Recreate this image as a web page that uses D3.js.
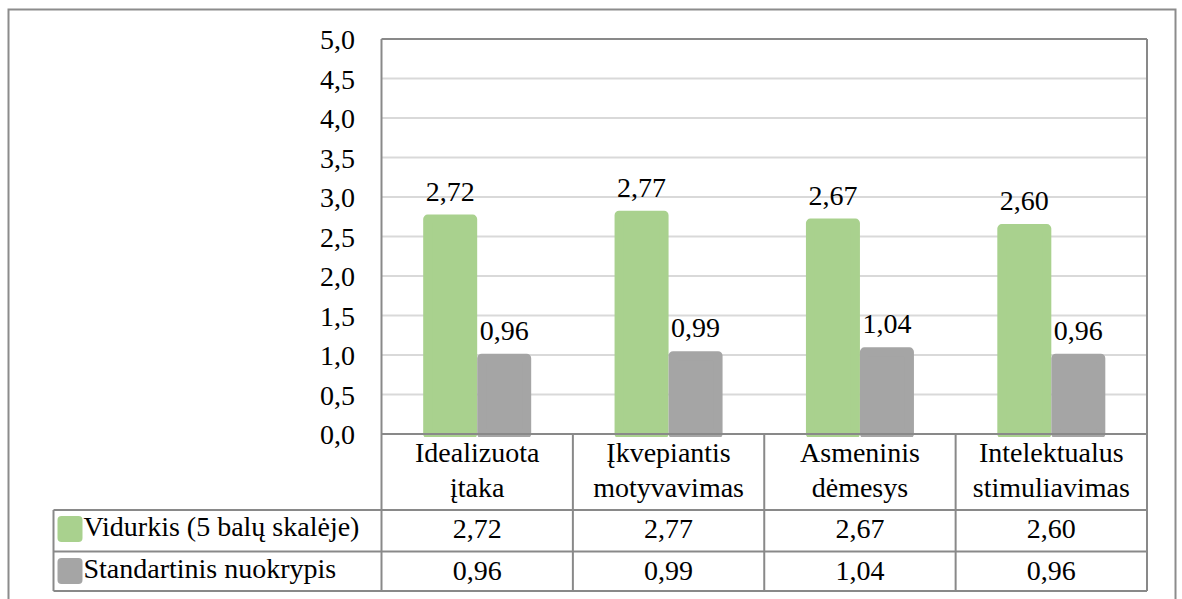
<!DOCTYPE html>
<html>
<head>
<meta charset="utf-8">
<script src="https://cdn.jsdelivr.net/npm/d3@7"></script>
<style>
  html, body { margin: 0; padding: 0; background: #fff; }
  svg { display: block; }
</style>
</head>
<body>
<svg id="chart" width="1182" height="599"></svg>
<script>
// Transformacinės lyderystės dimensijos
const categories = [
  ["Idealizuota", "įtaka"],
  ["Įkvepiantis", "motyvavimas"],
  ["Asmeninis", "dėmesys"],
  ["Intelektualus", "stimuliavimas"]
];
const seriesNames = ["Vidurkis (5 balų skalėje)", "Standartinis nuokrypis"];
const meanValues = [2.72, 2.77, 2.67, 2.60];
const sdValues = [0.96, 0.99, 1.04, 0.96];
const seriesColors = ["#A9D18E", "#A5A5A5"];
const yTicks = [0, 0.5, 1, 1.5, 2, 2.5, 3, 3.5, 4, 4.5, 5];

const fmt = v => d3.format(".2f")(v).replace(".", ",");
const fmtTick = v => d3.format(".1f")(v).replace(".", ",");

const FONT = "'Liberation Serif', 'DejaVu Serif', serif";
const svg = d3.select("#chart").style("font-family", FONT);
const FS = 28;
const lineColor = "#898989";

// layout
const plot = { left: 381.5, right: 1147, top: 39, bottom: 434 };
const table = { left: 53.5, headerBottom: 510, row1Bottom: 551.5, row2Bottom: 591 };

function label(sel) {
  return sel.style("font-family", FONT).attr("font-size", FS).attr("fill", "#000");
}

// outer chart frame
svg.append("rect")
  .attr("x", 8.5).attr("y", 9.5)
  .attr("width", 1167).attr("height", 640)
  .attr("fill", "none").attr("stroke", "#8c8c8c").attr("stroke-width", 2);

const catKeys = categories.map((c, i) => i);
const x = d3.scaleBand().domain(catKeys).range([plot.left, plot.right]).padding(0);
const bw = x.bandwidth();
const groupW = 108;
const xs = d3.scaleBand().domain([0, 1]).range([(bw - groupW) / 2, (bw + groupW) / 2]).padding(0);
const y = d3.scaleLinear().domain([0, 5]).range([plot.bottom, plot.top]);

// gridlines
svg.append("g")
  .selectAll("line")
  .data(yTicks.filter(t => t > 0 && t < 5))
  .join("line")
  .attr("x1", plot.left).attr("x2", plot.right)
  .attr("y1", d => y(d)).attr("y2", d => y(d))
  .attr("stroke", "#D9D9D9").attr("stroke-width", 2);

// y axis tick labels
const yAxis = d3.axisLeft(y).tickValues(yTicks).tickFormat(fmtTick).tickSize(0).tickPadding(0);
const gy = svg.append("g").attr("transform", `translate(355,0)`).call(yAxis);
gy.attr("font-family", null).attr("font-size", null);
gy.select(".domain").remove();
label(gy.selectAll("text"))
  .attr("dy", null)
  .attr("y", 9.5);

// bars
svg.append("clipPath").attr("id", "plotclip")
  .append("rect").attr("x", plot.left).attr("y", 0).attr("width", plot.right - plot.left).attr("height", plot.bottom + 3);

const seriesData = [meanValues, sdValues];
const barInset = 4.5;
const barsG = svg.append("g").attr("clip-path", "url(#plotclip)");
seriesData.forEach((vals, s) => {
  barsG.selectAll(null)
    .data(vals)
    .join("rect")
    .attr("x", (d, i) => x(i) + xs(s) + barInset)
    .attr("width", xs.bandwidth() - 2 * barInset)
    .attr("y", d => y(d))
    .attr("height", d => y(0) - y(d))
    .attr("fill", seriesColors[s])
    .attr("stroke", seriesColors[s])
    .attr("stroke-width", 2 * barInset)
    .attr("stroke-linejoin", "round");
});

// value labels over bars
seriesData.forEach((vals, s) => {
  label(svg.append("g").selectAll("text")
    .data(vals)
    .join("text"))
    .attr("x", (d, i) => x(i) + xs(s) + xs.bandwidth() / 2)
    .attr("y", d => y(d) - 18.5)
    .attr("text-anchor", "middle")
    .text(d => fmt(d));
});

// plot frame and table grid
const lines = svg.append("g").attr("stroke", lineColor).attr("stroke-width", 2).attr("fill", "none");
lines.append("line").attr("x1", plot.left).attr("x2", plot.right).attr("y1", plot.top).attr("y2", plot.top);
lines.append("line").attr("x1", plot.right).attr("x2", plot.right).attr("y1", plot.top).attr("y2", table.row2Bottom);
lines.append("line").attr("x1", plot.left).attr("x2", plot.left).attr("y1", plot.top).attr("y2", table.row2Bottom);
lines.append("line").attr("x1", plot.left).attr("x2", plot.right).attr("y1", plot.bottom).attr("y2", plot.bottom);
[table.headerBottom, table.row1Bottom, table.row2Bottom].forEach(yy => {
  lines.append("line").attr("x1", table.left).attr("x2", plot.right).attr("y1", yy).attr("y2", yy);
});
lines.append("line").attr("x1", table.left).attr("x2", table.left).attr("y1", table.headerBottom).attr("y2", table.row2Bottom);
catKeys.slice(1).forEach(i => {
  lines.append("line").attr("x1", x(i)).attr("x2", x(i)).attr("y1", plot.bottom).attr("y2", table.row2Bottom);
});

// category header cells
categories.forEach((c, i) => {
  const t = label(svg.append("text"))
    .attr("x", x(i) + bw / 2)
    .attr("y", 462)
    .attr("text-anchor", "middle");
  c.forEach((ln, k) => {
    t.append("tspan").attr("x", x(i) + bw / 2).attr("dy", k === 0 ? 0 : 34.5).text(ln);
  });
});

// data table rows
const rowBase = [537.5, 579.5];
seriesData.forEach((vals, s) => {
  svg.append("rect")
    .attr("x", 57.5).attr("y", rowBase[s] - 21.5)
    .attr("width", 25).attr("height", 26)
    .attr("rx", 4).attr("ry", 4)
    .attr("fill", seriesColors[s]);
  label(svg.append("text"))
    .attr("x", 83.5).attr("y", rowBase[s] - 1.5)
    .text(seriesNames[s]);
  label(svg.append("g").selectAll("text")
    .data(vals)
    .join("text"))
    .attr("x", (d, i) => x(i) + bw / 2)
    .attr("y", rowBase[s])
    .attr("text-anchor", "middle")
    .text(d => fmt(d));
});
</script>
</body>
</html>
